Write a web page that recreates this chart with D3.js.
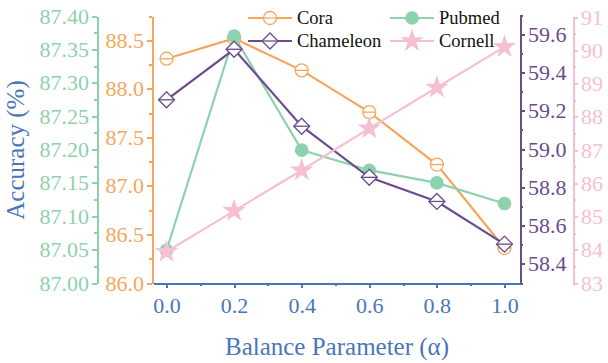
<!DOCTYPE html>
<html>
<head>
<meta charset="utf-8">
<script src="https://cdn.jsdelivr.net/npm/d3@7"></script>
<style>
  body { margin: 0; background: #fff; }
  svg text { font-family: "Liberation Serif", "Times New Roman", serif; }
  .axis path, .axis line { shape-rendering: crispEdges; }
</style>
</head>
<body>
<svg width="608" height="363" font-family="Liberation Serif, serif"></svg>
<script>
/* ----------------------------------------------------------
data
---------------------------------------------------------- */

var alphas = [0.0, 0.2, 0.4, 0.6, 0.8, 1.0];
var xTicks = [0.0, 0.2, 0.4, 0.6, 0.8, 1.0];

var cora = [88.31, 88.52, 88.19, 87.76, 87.22, 86.36];
var pubmed = [87.049, 87.370, 87.199, 87.169, 87.150, 87.119];
var chameleon = [59.257, 59.521, 59.119, 58.852, 58.726, 58.503];
var cornell = [83.94, 85.17, 86.39, 87.65, 88.88, 90.10];

var pubmedTicks = [87.00, 87.05, 87.10, 87.15, 87.20, 87.25, 87.30, 87.35, 87.40];
var coraTicks = [86.0, 86.5, 87.0, 87.5, 88.0, 88.5];
var chameleonTicks = [58.4, 58.6, 58.8, 59.0, 59.2, 59.4, 59.6];
var cornellTicks = [83, 84, 85, 86, 87, 88, 89, 90, 91];

/* ----------------------------------------------------------
setting
---------------------------------------------------------- */

var col = {
  green: "#8ed1ad",
  orange: "#f5a65c",
  purple: "#6b4c8e",
  pink: "#f7bfd2",
  blue: "#4a76b9"
};

var yTop = 16, yBottom = 283;
var serif = "Liberation Serif, Times New Roman, serif";
var svg = d3.select("svg");

var x = d3.scaleLinear().domain([-0.04, 1.046]).range([153, 520]);
var yGreen = d3.scaleLinear().domain([87.0, 87.4]).range([yBottom, yTop]);
var yOrange = d3.scaleLinear().domain([86.0, 88.75]).range([yBottom, yTop]);
var yPurple = d3.scaleLinear().domain([58.3, 59.7]).range([yBottom, 15]);
var yPink = d3.scaleLinear().domain([83, 91]).range([yBottom, 17]);

function minors(ticks, step) {
  var out = [];
  for (var i = 0; i < ticks.length - 1; i++) out.push(+(ticks[i] + step).toFixed(4));
  return out;
}

/* ----------------------------------------------------------
axes
---------------------------------------------------------- */

function drawAxis(gen, scale, pos, ticks, minorTicks, fmt, color, extraMinor) {
  var g = svg.append("g").attr("class", "axis").attr("transform", pos);
  var all = minorTicks.concat(extraMinor || []);
  g.call(gen(scale).tickValues(all).tickSize(3).tickFormat(""));
  g.call(function (s) { s.select(".domain").remove(); });
  var g2 = svg.append("g").attr("class", "axis").attr("transform", pos);
  g2.call(gen(scale).tickValues(ticks).tickSize(5).tickSizeOuter(0).tickPadding(3).tickFormat(d3.format(fmt)));
  g2.attr("font-family", serif).attr("font-size", 22);
  g2.selectAll("path, line").attr("stroke", color).attr("stroke-width", 2);
  g.selectAll("line").attr("stroke", color).attr("stroke-width", 2);
  g2.selectAll("text").attr("fill", color).attr("font-family", serif).attr("font-size", 22);
  return g2;
}

drawAxis(d3.axisLeft, yGreen, "translate(97,0)", pubmedTicks, minors(pubmedTicks, 0.025), ".2f", col.green);
drawAxis(d3.axisLeft, yOrange, "translate(152,0)", coraTicks, minors(coraTicks, 0.25), ".1f", col.orange, [88.75]);
drawAxis(d3.axisRight, yPurple, "translate(520,0)", chameleonTicks, minors(chameleonTicks, 0.1), ".1f", col.purple, [58.3, 59.7]);
drawAxis(d3.axisRight, yPink, "translate(573,0)", cornellTicks, minors(cornellTicks, 0.5), "d", col.pink);

var xAx = drawAxis(d3.axisBottom, x, "translate(0," + yBottom + ")", xTicks, [0.1, 0.3, 0.5, 0.7, 0.9], ".1f", col.blue);
xAx.selectAll("text").attr("dy", "1.0em");

// titles
svg.append("text")
  .attr("x", 337).attr("y", 355)
  .attr("text-anchor", "middle")
  .attr("fill", col.blue)
  .attr("font-family", serif).attr("font-size", 25)
  .text("Balance Parameter (α)");

svg.append("text")
  .attr("transform", "translate(24,150) rotate(-90)")
  .attr("text-anchor", "middle")
  .attr("fill", col.blue)
  .attr("font-family", serif).attr("font-size", 25)
  .text("Accuracy (%)");

/* ----------------------------------------------------------
series
---------------------------------------------------------- */

function marker(g, type, color, cx, cy) {
  if (type == "circle") {
    g.append("circle").attr("cx", cx).attr("cy", cy).attr("r", 6.5)
      .attr("fill", "#fff").attr("stroke", color).attr("stroke-width", 1.3);
    g.append("line").attr("x1", cx - 6.5).attr("x2", cx + 6.5).attr("y1", cy).attr("y2", cy)
      .attr("stroke", color).attr("stroke-width", 1.3);
  } else if (type == "dot") {
    g.append("circle").attr("cx", cx).attr("cy", cy).attr("r", 6.8).attr("fill", color);
  } else if (type == "diamond") {
    var r = 8;
    g.append("path")
      .attr("d", "M" + cx + "," + (cy - r) + "L" + (cx + r) + "," + cy + "L" + cx + "," + (cy + r) + "L" + (cx - r) + "," + cy + "Z")
      .attr("fill", "#fff").attr("stroke", color).attr("stroke-width", 1.3);
    g.append("line").attr("x1", cx - r).attr("x2", cx + r).attr("y1", cy).attr("y2", cy)
      .attr("stroke", color).attr("stroke-width", 1.3);
  } else {
    g.append("path")
      .attr("d", d3.symbol().type(d3.symbolStar).size(170)())
      .attr("transform", "translate(" + cx + "," + cy + ")")
      .attr("fill", color);
  }
}

var series = [
  { name: "Cora", values: cora, y: yOrange, color: col.orange, type: "circle" },
  { name: "Pubmed", values: pubmed, y: yGreen, color: col.green, type: "dot" },
  { name: "Chameleon", values: chameleon, y: yPurple, color: col.purple, type: "diamond" },
  { name: "Cornell", values: cornell, y: yPink, color: col.pink, type: "star" }
];

series.forEach(function (s) {
  var g = svg.append("g");
  var line = d3.line().x(function (d, i) { return x(alphas[i]); }).y(function (d) { return s.y(d); });
  g.append("path").datum(s.values)
    .attr("d", line).attr("fill", "none")
    .attr("stroke", s.color).attr("stroke-width", 2.2);
  s.values.forEach(function (v, i) { marker(g, s.type, s.color, x(alphas[i]), s.y(v)); });
});

/* ----------------------------------------------------------
legend
---------------------------------------------------------- */

var legPos = [[248, 18], [390, 18], [248, 41], [390, 41]];
series.forEach(function (s, i) {
  var p = legPos[i];
  var g = svg.append("g");
  g.append("line").attr("x1", p[0]).attr("x2", p[0] + 44).attr("y1", p[1]).attr("y2", p[1])
    .attr("stroke", s.color).attr("stroke-width", 2.2);
  marker(g, s.type, s.color, p[0] + 22, p[1]);
  g.append("text").attr("x", p[0] + 49).attr("y", p[1] + 6)
    .attr("fill", "#111").attr("font-family", serif).attr("font-size", 18.5).text(s.name);
});
</script>
</body>
</html>
